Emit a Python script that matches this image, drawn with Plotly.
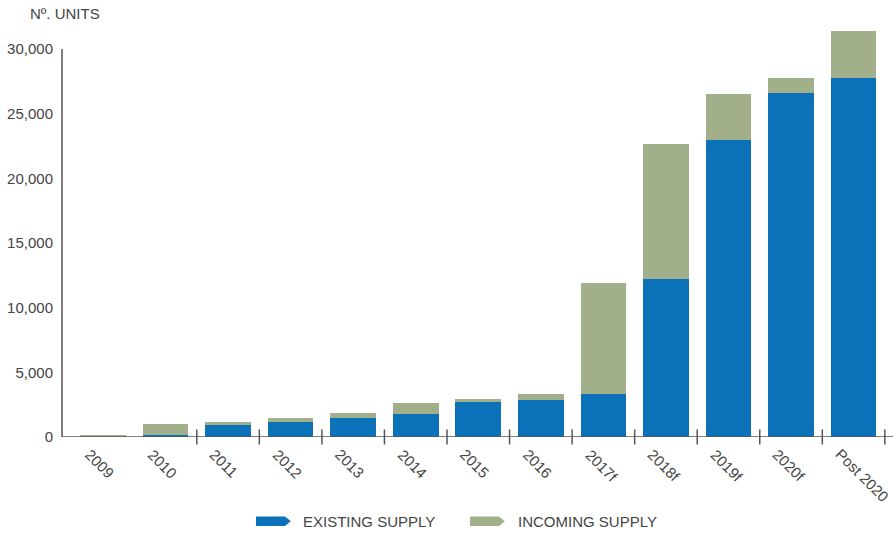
import plotly.graph_objects as go

# Housing supply by year (number of units)
years = ["2009", "2010", "2011", "2012", "2013", "2014", "2015", "2016",
         "2017f", "2018f", "2019f", "2020f", "Post 2020"]
existing = [0, 150, 1000, 1150, 1450, 1780, 2700, 2850,
            3300, 12250, 22950, 26600, 27750]
incoming = [150, 880, 150, 300, 400, 850, 220, 450,
            8600, 10400, 3550, 1150, 3650]
y_ticks = [0, 5000, 10000, 15000, 20000, 25000, 30000]

BLUE = "#0B72B9"
GREEN = "#A2AF8B"
AXIS = "#555555"
TEXT = "#444444"
FONT = "Liberation Sans"

fig = go.Figure()
fig.add_trace(go.Bar(x=years, y=existing, name="EXISTING SUPPLY",
                     marker=dict(color=BLUE, line=dict(width=0))))
fig.add_trace(go.Bar(x=years, y=incoming, name="INCOMING SUPPLY",
                     marker=dict(color=GREEN, line=dict(width=0))))

shapes = []
# y axis line, drawn only up to the top tick
shapes.append(dict(type="line", xref="paper", yref="y", x0=0, x1=0,
                   y0=0, y1=y_ticks[-1], line=dict(color=AXIS, width=1.5)))
# x axis line
shapes.append(dict(type="line", xref="paper", yref="y", x0=0, x1=1,
                   y0=0, y1=0, line=dict(color=AXIS, width=1.5)))
# crossing tick marks at category boundaries
for i in range(2, len(years) + 1):
    shapes.append(dict(type="line", xref="x", yref="paper",
                       x0=i - 0.5, x1=i - 0.5, y0=0.018, y1=-0.018,
                       line=dict(color=AXIS, width=1.5)))

W = 831.0
H = 414.0
def px(x):
    return (x - 62) / W
def py(y):
    return (437 - y) / H

# custom legend markers: bars with pointed right end
def arrow(x0, x1, y0, y1, color):
    tip = x1 + (x1 - x0) * 0.2
    ym = (y0 + y1) / 2
    return dict(type="path", xref="paper", yref="paper",
                path=f"M {x0} {y0} L {x1} {y0} L {tip} {ym} L {x1} {y1} L {x0} {y1} Z",
                fillcolor=color, line=dict(width=0))

shapes.append(arrow(px(256), px(285), py(526), py(516.5), BLUE))
shapes.append(arrow(px(470), px(499), py(526), py(516.5), GREEN))

annotations = [
    dict(text="Nº. UNITS", xref="paper", yref="paper", x=px(28), y=py(14),
         xanchor="left", yanchor="middle", showarrow=False,
         font=dict(family=FONT, size=15, color=TEXT)),
    dict(text="EXISTING SUPPLY", xref="paper", yref="paper", x=px(301), y=py(521),
         xanchor="left", yanchor="middle", showarrow=False,
         font=dict(family=FONT, size=15, color=TEXT)),
    dict(text="INCOMING SUPPLY", xref="paper", yref="paper", x=px(516), y=py(521),
         xanchor="left", yanchor="middle", showarrow=False,
         font=dict(family=FONT, size=15, color=TEXT)),
]

# rotated category labels (positioned by category index)
for i, yr in enumerate(years):
    annotations.append(dict(text=yr, xref="x", yref="paper", x=i, y=py(443),
                            xanchor="left", yanchor="top", xshift=-24,
                            textangle=45, showarrow=False,
                            font=dict(family=FONT, size=15, color=TEXT)))

fig.update_layout(
    barmode="stack",
    bargap=0.27,
    width=893, height=533,
    margin=dict(l=62, r=0, t=23, b=96),
    plot_bgcolor="white", paper_bgcolor="white",
    showlegend=False,
    font=dict(family=FONT, size=15, color=TEXT),
    shapes=shapes,
    annotations=annotations,
    xaxis=dict(range=[-0.655, 12.63], showticklabels=False, automargin=False,
               showline=False, showgrid=False, zeroline=False, ticks=""),
    yaxis=dict(range=[0, 32000], tickvals=y_ticks, tickformat=",",
               automargin=False,
               showline=False, showgrid=False, zeroline=False, ticks="",
               ticklabelstandoff=8,
               tickfont=dict(family=FONT, size=15, color=TEXT)),
)

fig.write_html("out.html")
